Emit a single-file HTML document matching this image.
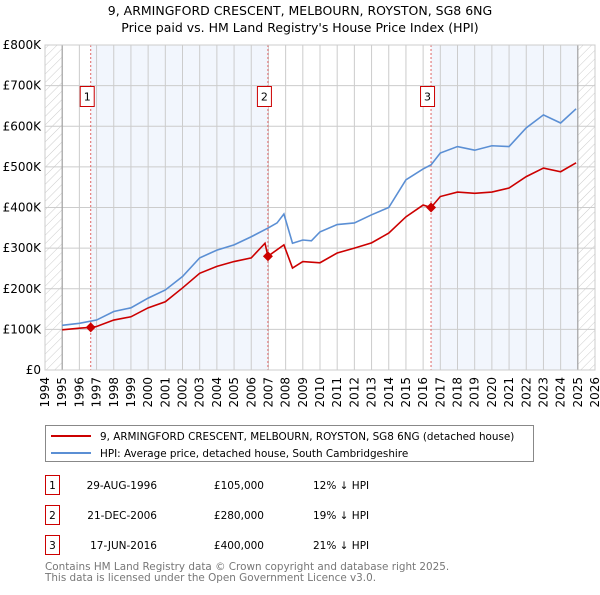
<!DOCTYPE html>
<html><head><meta charset="utf-8"><style>
body{margin:0;background:#fff;font-family:"Liberation Sans","DejaVu Sans",sans-serif;}
svg text{font-family:"DejaVu Sans","Liberation Sans",sans-serif;}
</style></head><body>
<svg id="c" width="600" height="590" viewBox="0 0 600 590" xmlns="http://www.w3.org/2000/svg">
<defs><pattern id="hatch" width="6" height="6" patternUnits="userSpaceOnUse" patternTransform="rotate(45)"><line x1="0" y1="0" x2="0" y2="6" stroke="#ccc" stroke-width="1"/></pattern></defs>
<text x="300" y="15" text-anchor="middle" font-size="12.5">9, ARMINGFORD CRESCENT, MELBOURN, ROYSTON, SG8 6NG</text>
<text x="300" y="32" text-anchor="middle" font-size="12.5">Price paid vs. HM Land Registry's House Price Index (HPI)</text>
<g id="plot"></g>
<g>
<rect x="45.5" y="425.5" width="488" height="36" fill="#fff" stroke="#888"/>
<line x1="51" y1="436" x2="91" y2="436" stroke="#cc0000" stroke-width="2"/>
<text x="100" y="440" font-size="10.4">9, ARMINGFORD CRESCENT, MELBOURN, ROYSTON, SG8 6NG (detached house)</text>
<line x1="51" y1="453" x2="91" y2="453" stroke="#5b8fd4" stroke-width="2"/>
<text x="100" y="457" font-size="10.4">HPI: Average price, detached house, South Cambridgeshire</text>
</g>
<g font-size="10.5">
<g><rect x="45.5" y="475.5" width="14" height="19" fill="#fff" stroke="#cc0000"/><text x="52.5" y="489" text-anchor="middle">1</text><text x="157" y="489" text-anchor="end">29-AUG-1996</text><text x="264" y="489" text-anchor="end">£105,000</text><text x="313" y="489">12% ↓ HPI</text></g>
<g><rect x="45.5" y="505.5" width="14" height="19" fill="#fff" stroke="#cc0000"/><text x="52.5" y="519" text-anchor="middle">2</text><text x="157" y="519" text-anchor="end">21-DEC-2006</text><text x="264" y="519" text-anchor="end">£280,000</text><text x="313" y="519">19% ↓ HPI</text></g>
<g><rect x="45.5" y="535.5" width="14" height="19" fill="#fff" stroke="#cc0000"/><text x="52.5" y="549" text-anchor="middle">3</text><text x="157" y="549" text-anchor="end">17-JUN-2016</text><text x="264" y="549" text-anchor="end">£400,000</text><text x="313" y="549">21% ↓ HPI</text></g>
</g>
<text x="45" y="570" font-size="10.4" fill="#777">Contains HM Land Registry data © Crown copyright and database right 2025.</text>
<text x="45" y="581" font-size="10.4" fill="#777">This data is licensed under the Open Government Licence v3.0.</text>
</svg>
<script>
const hpiYears=[1995,1996,1997,1998,1999,2000,2001,2002,2003,2004,2005,2006,2007,2007.5,2007.9,2008.4,2009,2009.5,2010,2011,2012,2013,2014,2015,2016,2016.46,2017,2018,2019,2020,2021,2022,2023,2024,2024.9];
const hpiValues=[110,115,123,144,153,177,197,230,276,295,308,328,350,362,384,312,320,318,340,358,362,382,400,468,495,505,534,550,541,552,550,596,628,608,643];
const ppYears=[1995,1996,1996.66,1997,1998,1999,2000,2001,2002,2003,2004,2005,2006,2006.8,2006.97,2007.9,2008.4,2009,2010,2011,2012,2013,2014,2015,2016,2016.46,2017,2018,2019,2020,2021,2022,2023,2024,2024.9];
const ppValues=[99,103,105,107,123,131,153,168,202,238,255,267,276,312,280,308,251,267,264,288,300,313,337,377,406,400,427,438,435,438,448,476,497,488,510];
const saleYears=[1996.66,2006.97,2016.46];
const saleValues=[105,280,400];
const saleLabels=["1","2","3"];
const yTicks=[0,100,200,300,400,500,600,700,800];
const yTickLabels=["£0","£100K","£200K","£300K","£400K","£500K","£600K","£700K","£800K"];
const xTicks=[1994,1995,1996,1997,1998,1999,2000,2001,2002,2003,2004,2005,2006,2007,2008,2009,2010,2011,2012,2013,2014,2015,2016,2017,2018,2019,2020,2021,2022,2023,2024,2025,2026];

const X0=45,X1=595,Y0=370,Y1=45;
const xs=y=>X0+(y-1994)/(2026-1994)*(X1-X0);
const ys=v=>Y0-v/800*(Y0-Y1);
const NS="http://www.w3.org/2000/svg";
const g=document.getElementById('plot');
function mk(t,a){const e=document.createElementNS(NS,t);for(const k in a)e.setAttribute(k,a[k]);g.appendChild(e);return e;}
let e;
e=mk('rect',{x:xs(saleYears[0]),y:Y1,width:xs(saleYears[1])-xs(saleYears[0]),height:Y0-Y1,fill:'#f2f6fd'});


e=mk('rect',{x:xs(saleYears[2]),y:Y1,width:xs(2025)-xs(saleYears[2]),height:Y0-Y1,fill:'#f2f6fd'});


e=mk('rect',{x:X0,y:Y1,width:xs(1995)-X0,height:Y0-Y1,fill:'url(#hatch)'});


e=mk('rect',{x:xs(2025),y:Y1,width:X1-xs(2025),height:Y0-Y1,fill:'url(#hatch)'});


xTicks.forEach(t=>{
 e=mk('line',{x1:xs(t),y1:Y1,x2:xs(t),y2:Y0,stroke:'#ccc','stroke-width':1});
 
 
 e=mk('text',{x:0,y:0,'font-size':12,'text-anchor':'end',transform:`translate(${xs(t)+4},${Y0+7}) rotate(-90)`});
 e.textContent=t;
 
 
});
yTicks.forEach((t,i)=>{
 e=mk('line',{x1:X0,y1:ys(t),x2:X1,y2:ys(t),stroke:'#ccc','stroke-width':1});
 
 
 e=mk('text',{x:X0-4,y:ys(t)+4,'font-size':12,'text-anchor':'end'});
 e.textContent=yTickLabels[i];
 
 
});
e=mk('line',{x1:xs(1995),y1:Y1,x2:xs(1995),y2:Y0,stroke:'#999','stroke-width':1});


e=mk('line',{x1:xs(2025),y1:Y1,x2:xs(2025),y2:Y0,stroke:'#999','stroke-width':1});


saleYears.forEach((s,i)=>{
 e=mk('line',{x1:xs(s),y1:Y1,x2:xs(s),y2:Y0,stroke:'#e06666','stroke-width':1,'stroke-dasharray':'2,2'});
 
 
});
e=mk('polyline',{points:hpiYears.map((y,i)=>xs(y)+','+ys(hpiValues[i])).join(' '),fill:'none',stroke:'#5b8fd4','stroke-width':1.6});


e=mk('polyline',{points:ppYears.map((y,i)=>xs(y)+','+ys(ppValues[i])).join(' '),fill:'none',stroke:'#cc0000','stroke-width':1.6});


saleYears.forEach((s,i)=>{
 const cx=xs(s),cy=ys(saleValues[i]);
 e=mk('path',{d:`M${cx-5},${cy} L${cx},${cy-5} L${cx+5},${cy} L${cx},${cy+5} Z`,fill:'#cc0000'});
 
 
 e=mk('rect',{x:cx-10.5,y:86.5,width:14,height:20,fill:'#fff',stroke:'#cc0000'});
 
 
 e=mk('text',{x:cx-3.5,y:100.5,'font-size':11,'text-anchor':'middle'});
 e.textContent=saleLabels[i];
 
 
});
e=mk('rect',{x:X0,y:Y1,width:X1-X0,height:Y0-Y1,fill:'none',stroke:'#ccc'});


</script>
</body></html>
